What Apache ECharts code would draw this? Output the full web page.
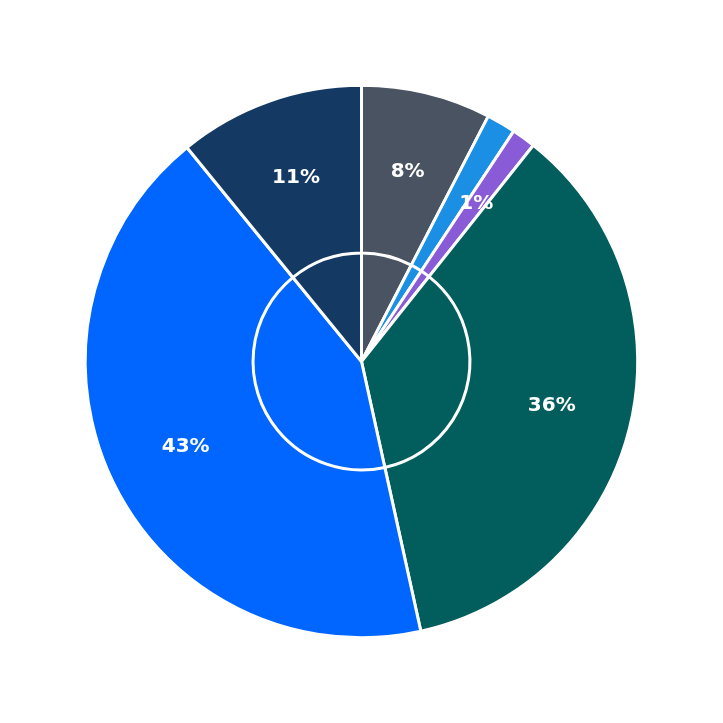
<!DOCTYPE html><html><head><meta charset="utf-8">
<script src="https://cdn.jsdelivr.net/npm/echarts@6/dist/echarts.min.js"></script>
<style>html,body{margin:0;padding:0;background:#fff}#c{width:723px;height:723px}</style></head><body><div id="c"></div>
<script>
const categories=['A','B','C','D','E','F'];
const values=[7.6,1.7,1.4,35.9,42.6,10.9];
const colors=['#4a5361','#1a8fe3','#8a5bd6','#025e5c','#0066ff','#143a63'];
const data=categories.map((n,i)=>({name:n,value:values[i],itemStyle:{color:colors[i]}}));
const ch=echarts.init(document.getElementById('c'));
ch.setOption({animation:false,series:[
{type:'pie',radius:['0%','76.4%'],center:['50%','50%'],startAngle:90,clockwise:true,label:{show:false},labelLine:{show:false},silent:true,
 itemStyle:{borderColor:'#fff',borderWidth:3},data:data},
{type:'pie',radius:['30%','76.4%'],center:['50%','50%'],startAngle:90,clockwise:true,
 itemStyle:{borderColor:'#fff',borderWidth:3},data:data,
 label:{show:true,position:'inside',color:'#fff',fontSize:20,fontWeight:'bold',fontFamily:'DejaVu Sans',
 formatter:p=>Math.round(p.percent)+'%'},labelLine:{show:false}}
]});
</script></body></html>
